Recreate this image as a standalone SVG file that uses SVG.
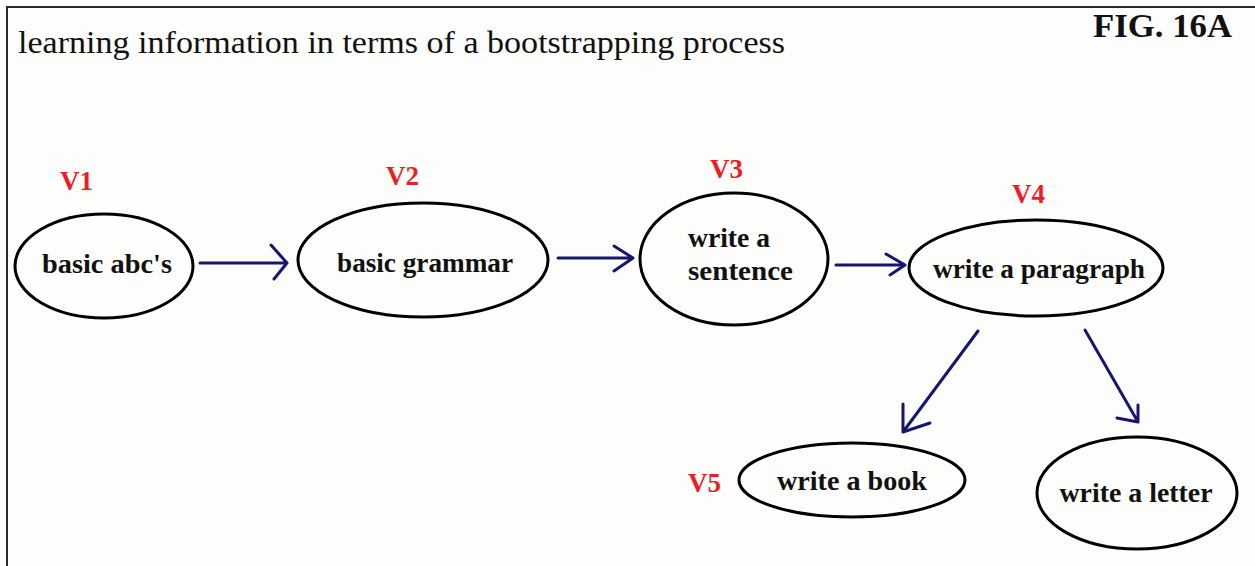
<svg xmlns="http://www.w3.org/2000/svg" width="1255" height="566" viewBox="0 0 1255 566">
<style>
.bg{fill:#fdfdfb}
.frame{fill:none;stroke:#2a2a2a;stroke-width:2}
.node{fill:#fdfdfb;stroke:#000;stroke-width:3}
.lbl{font-family:"Liberation Serif",serif;font-weight:bold;font-size:27px;fill:#111}
.v{font-family:"Liberation Serif",serif;font-weight:bold;font-size:27px;fill:#ee1c25}
.title{font-family:"Liberation Serif",serif;font-size:32px;fill:#111}
.fig{font-family:"Liberation Serif",serif;font-weight:bold;font-size:34px;fill:#111}
.arr{fill:none;stroke:#16166e;stroke-width:3;stroke-linecap:round;stroke-linejoin:round}
</style>
<rect class="bg" x="0" y="0" width="1255" height="566"/>
<path class="frame" d="M7,566 L7,7 L1255,7"/>
<text class="title" x="18" y="53" textLength="767" lengthAdjust="spacingAndGlyphs">learning information in terms of a bootstrapping process</text>
<text class="fig" x="1093" y="37" textLength="139" lengthAdjust="spacingAndGlyphs">FIG. 16A</text>

<g id="connectors">
  <path class="arr" d="M200,263 L287,263 M271,245 L287,263 L274,279"/>
  <path class="arr" d="M558,258 L633,258 M614,246 L633,258 L614,271"/>
  <path class="arr" d="M836,265 L905,265 M886,254 L905,265 L890,275"/>
  <path class="arr" d="M978,331 L903,432 M903,404 L903,432 L930,423"/>
  <path class="arr" d="M1085,330 L1138,422 M1138,405 L1138,422 L1117,418"/>
</g>

<g id="v1">
  <ellipse class="node" cx="104" cy="266" rx="89" ry="52"/>
  <text class="lbl" x="107" y="273" text-anchor="middle" textLength="130" lengthAdjust="spacingAndGlyphs">basic abc's</text>
  <text class="v" x="60" y="190">V1</text>
</g>
<g id="v2">
  <ellipse class="node" cx="423" cy="260" rx="125" ry="57"/>
  <text class="lbl" x="425" y="272" text-anchor="middle" textLength="176" lengthAdjust="spacingAndGlyphs">basic grammar</text>
  <text class="v" x="386" y="185">V2</text>
</g>
<g id="v3">
  <ellipse class="node" cx="734" cy="259" rx="94" ry="66"/>
  <text class="lbl" x="688" y="247" textLength="82" lengthAdjust="spacingAndGlyphs">write a</text>
  <text class="lbl" x="688" y="280" textLength="105" lengthAdjust="spacingAndGlyphs">sentence</text>
  <text class="v" x="710" y="178">V3</text>
</g>
<g id="v4">
  <ellipse class="node" cx="1036" cy="268" rx="127" ry="48"/>
  <text class="lbl" x="1039" y="278" text-anchor="middle" textLength="212" lengthAdjust="spacingAndGlyphs">write a paragraph</text>
  <text class="v" x="1012" y="203">V4</text>
</g>
<g id="v5">
  <ellipse class="node" cx="852" cy="480" rx="113" ry="37"/>
  <text class="lbl" x="852" y="490" text-anchor="middle" textLength="150" lengthAdjust="spacingAndGlyphs">write a book</text>
  <text class="v" x="688" y="492">V5</text>
</g>
<g id="letter">
  <ellipse class="node" cx="1137" cy="493" rx="100" ry="56"/>
  <text class="lbl" x="1136" y="502" text-anchor="middle" textLength="153" lengthAdjust="spacingAndGlyphs">write a letter</text>
</g>
</svg>
